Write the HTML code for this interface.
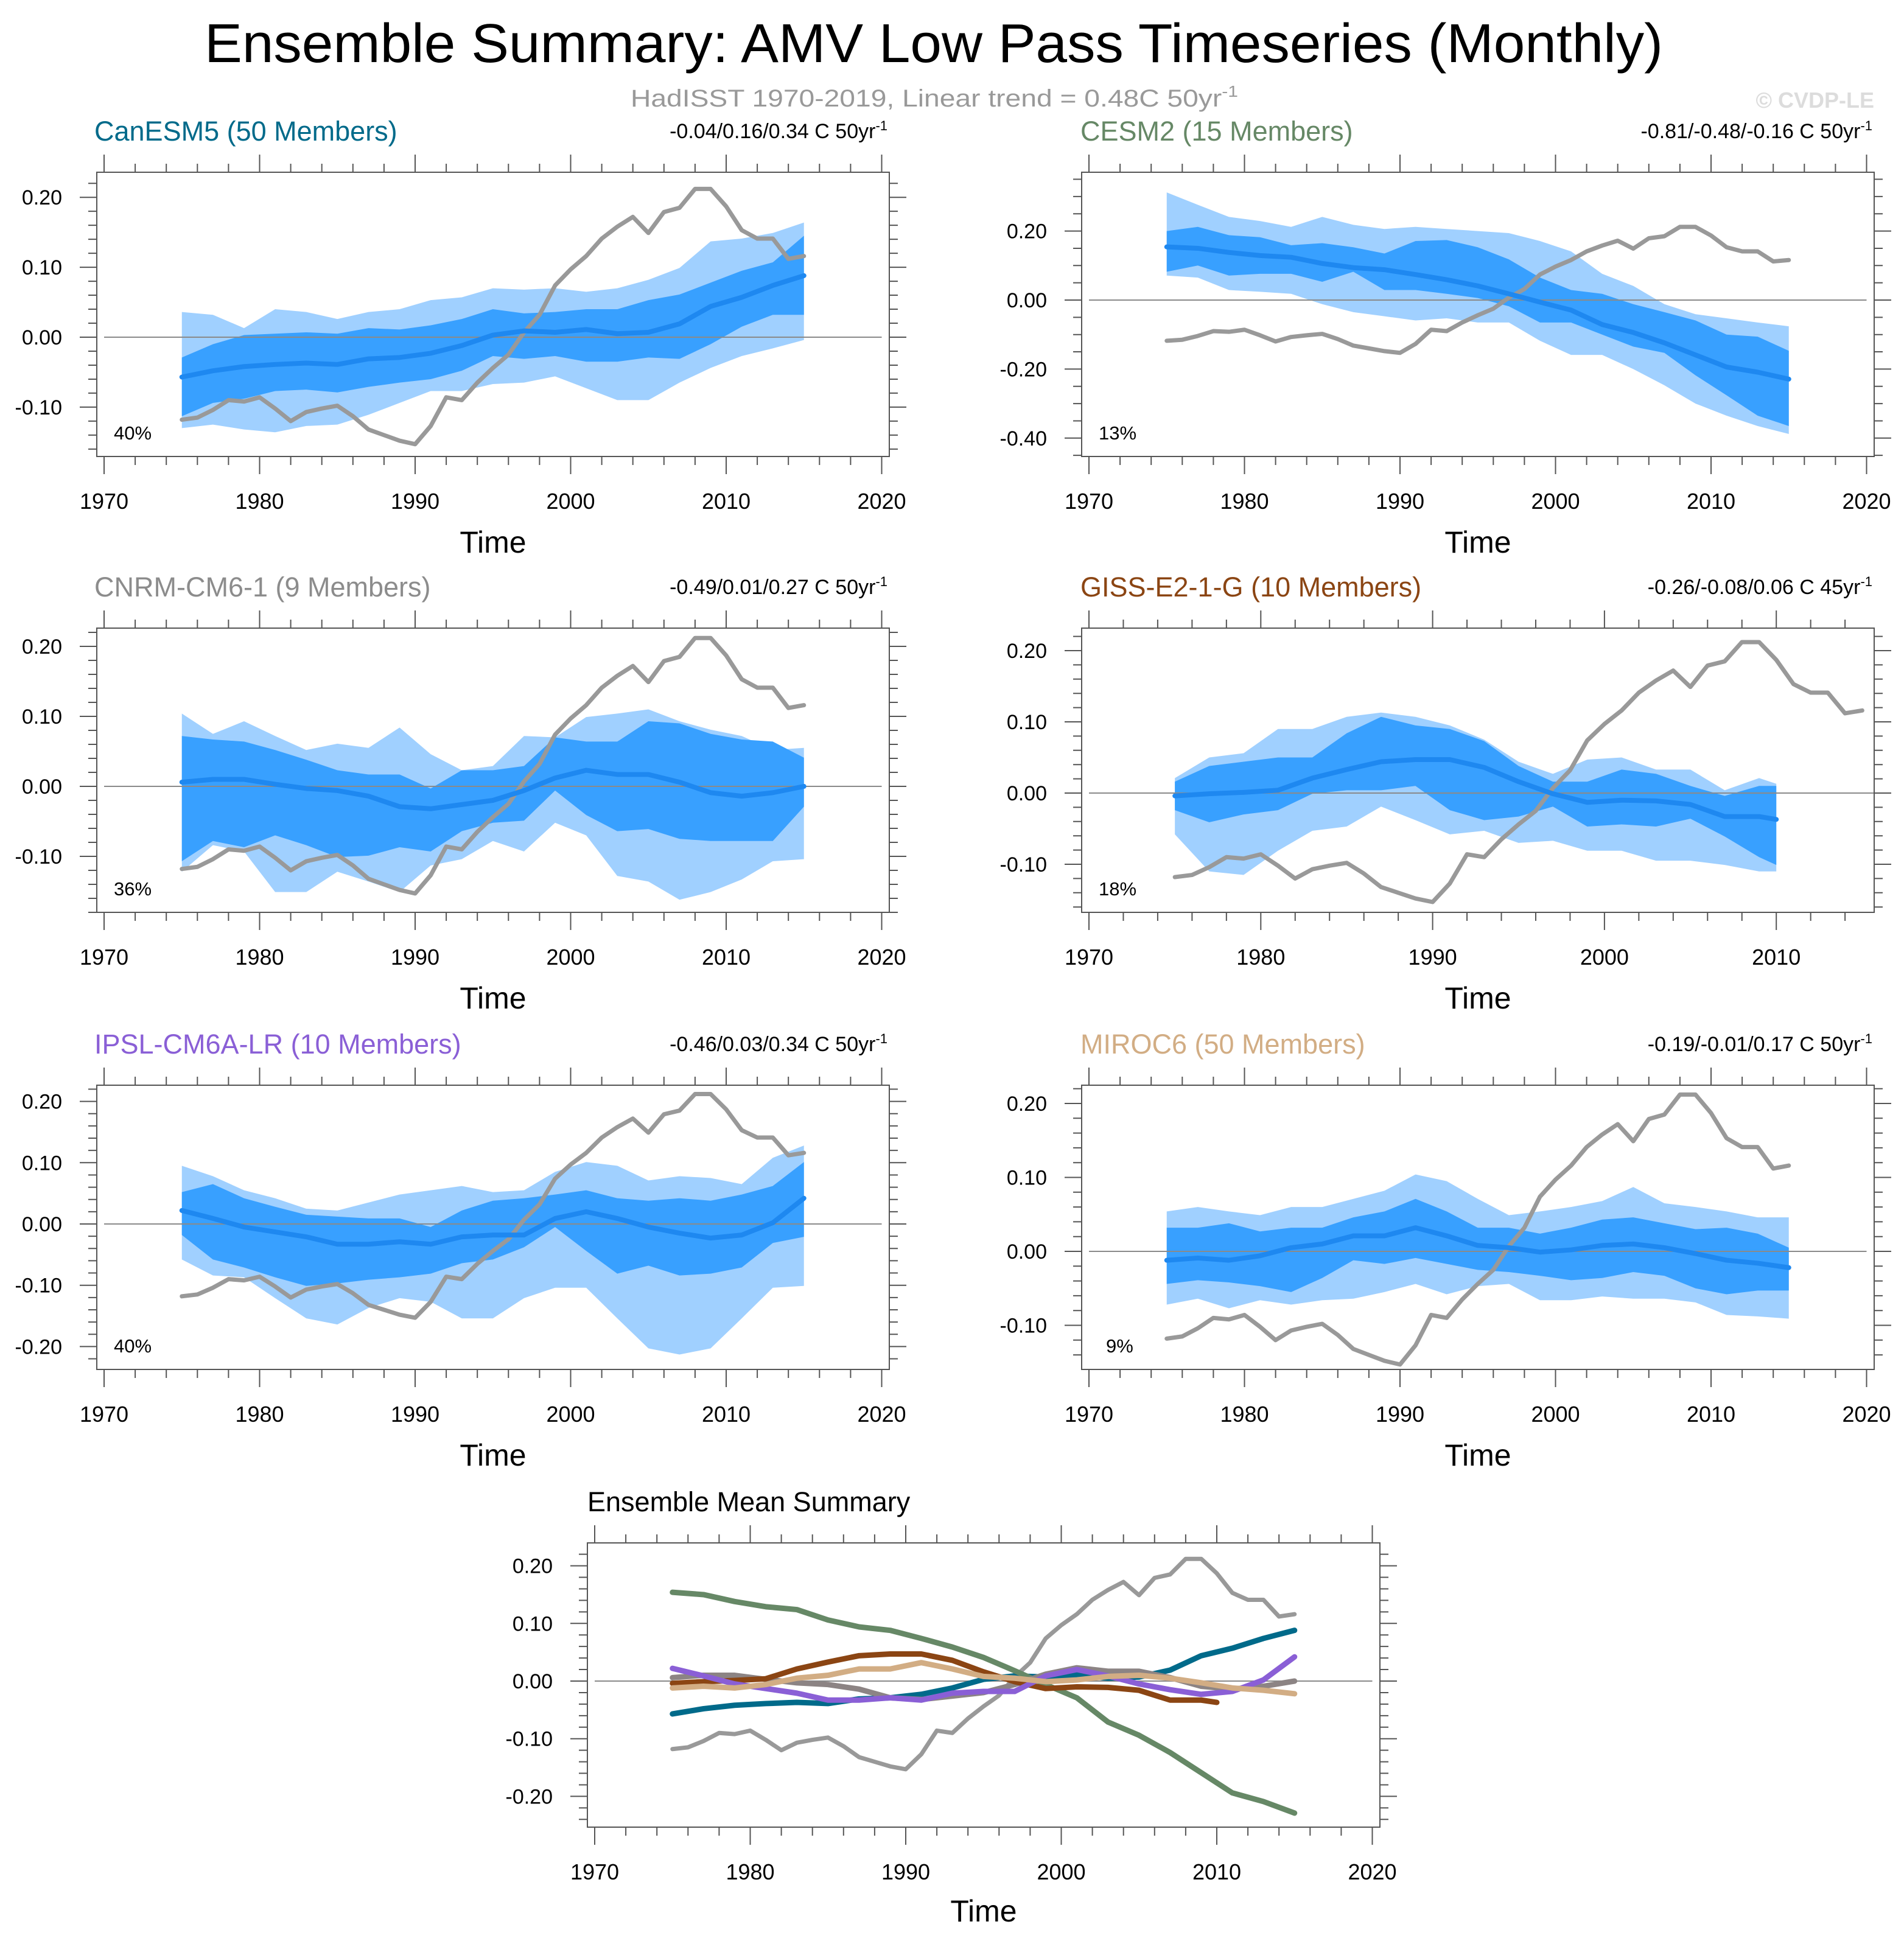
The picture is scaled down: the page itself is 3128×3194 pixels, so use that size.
<!DOCTYPE html>
<html><head><meta charset="utf-8"><title>Ensemble Summary: AMV Low Pass Timeseries</title>
<style>
html,body{margin:0;padding:0;background:#fff;}
svg{display:block;font-family:"Liberation Sans",Arial,sans-serif;}
</style></head>
<body>
<svg id="chart" xmlns="http://www.w3.org/2000/svg" width="3128" height="3194" viewBox="0 0 3128 3194">
<rect x="0" y="0" width="3128" height="3194" fill="#ffffff"/>
<text x="1534" y="102" font-size="90" text-anchor="middle" textLength="2396" lengthAdjust="spacingAndGlyphs" fill="#000">Ensemble Summary: AMV Low Pass Timeseries (Monthly)</text>
<text x="1535" y="175" font-size="40" text-anchor="middle" textLength="998" lengthAdjust="spacingAndGlyphs" fill="#999">HadISST 1970-2019, Linear trend = 0.48C 50yr<tspan font-size="26" dy="-16">-1</tspan></text>
<text x="3079" y="177" font-size="36" font-weight="bold" text-anchor="end" fill="#dcdcdc">© CVDP-LE</text>

<text x="155" y="231" font-size="45" fill="#006a8a">CanESM5 (50 Members)</text>
<text x="1458" y="227" font-size="34" text-anchor="end">-0.04/0.16/0.34 C 50yr<tspan font-size="22" dy="-13">-1</tspan></text>
<text x="187" y="722" font-size="31">40%</text>
<text x="810" y="908" font-size="50" text-anchor="middle">Time</text>

<text x="1775" y="231" font-size="45" fill="#668866">CESM2 (15 Members)</text>
<text x="3076" y="227" font-size="34" text-anchor="end">-0.81/-0.48/-0.16 C 50yr<tspan font-size="22" dy="-13">-1</tspan></text>
<text x="1805" y="722" font-size="31">13%</text>
<text x="2428" y="908" font-size="50" text-anchor="middle">Time</text>

<text x="155" y="980" font-size="45" fill="#8c8c8c">CNRM-CM6-1 (9 Members)</text>
<text x="1458" y="976" font-size="34" text-anchor="end">-0.49/0.01/0.27 C 50yr<tspan font-size="22" dy="-13">-1</tspan></text>
<text x="187" y="1471" font-size="31">36%</text>
<text x="810" y="1657" font-size="50" text-anchor="middle">Time</text>

<text x="1775" y="980" font-size="45" fill="#8b4513">GISS-E2-1-G (10 Members)</text>
<text x="3076" y="976" font-size="34" text-anchor="end">-0.26/-0.08/0.06 C 45yr<tspan font-size="22" dy="-13">-1</tspan></text>
<text x="1805" y="1471" font-size="31">18%</text>
<text x="2428" y="1657" font-size="50" text-anchor="middle">Time</text>

<text x="155" y="1731" font-size="45" fill="#8a5fd6">IPSL-CM6A-LR (10 Members)</text>
<text x="1458" y="1727" font-size="34" text-anchor="end">-0.46/0.03/0.34 C 50yr<tspan font-size="22" dy="-13">-1</tspan></text>
<text x="187" y="2222" font-size="31">40%</text>
<text x="810" y="2408" font-size="50" text-anchor="middle">Time</text>

<text x="1775" y="1731" font-size="45" fill="#d2ad84">MIROC6 (50 Members)</text>
<text x="3076" y="1727" font-size="34" text-anchor="end">-0.19/-0.01/0.17 C 50yr<tspan font-size="22" dy="-13">-1</tspan></text>
<text x="1817" y="2222" font-size="31">9%</text>
<text x="2428" y="2408" font-size="50" text-anchor="middle">Time</text>

<text x="965" y="2483" font-size="45">Ensemble Mean Summary</text>
<text x="1616" y="3157" font-size="50" text-anchor="middle">Time</text>
<g id="plots"></g>
</svg>
<script>
const NS = "http://www.w3.org/2000/svg";
const obsYears = [1975,1976,1977,1978,1979,1980,1981,1982,1983,1984,1985,1986,1987,1988,1989,1990,1991,1992,1993,1994,1995,1996,1997,1998,1999,2000,2001,2002,2003,2004,2005,2006,2007,2008,2009,2010,2011,2012,2013,2014,2015];
const obsValues = [-0.118,-0.115,-0.104,-0.090,-0.092,-0.086,-0.102,-0.120,-0.107,-0.102,-0.098,-0.113,-0.132,-0.140,-0.148,-0.153,-0.127,-0.086,-0.090,-0.065,-0.044,-0.025,0.007,0.032,0.074,0.097,0.116,0.141,0.158,0.172,0.149,0.179,0.185,0.212,0.212,0.187,0.153,0.141,0.141,0.112,0.116];
const bandYears = [1975,1977,1979,1981,1983,1985,1987,1989,1991,1993,1995,1997,1999,2001,2003,2005,2007,2009,2011,2013,2015];
const gissYears = [1975,1977,1979,1981,1983,1985,1987,1989,1991,1993,1995,1997,1999,2001,2003,2005,2007,2009,2010];

const canMean = [-0.057,-0.048,-0.042,-0.039,-0.037,-0.039,-0.031,-0.029,-0.023,-0.012,0.003,0.009,0.007,0.011,0.005,0.007,0.019,0.044,0.057,0.074,0.088];
const canInHi = [-0.029,-0.010,0.003,0.005,0.007,0.005,0.013,0.011,0.017,0.026,0.040,0.034,0.036,0.040,0.040,0.053,0.061,0.078,0.095,0.107,0.145];
const canInLo = [-0.113,-0.094,-0.088,-0.077,-0.075,-0.079,-0.071,-0.065,-0.060,-0.048,-0.027,-0.031,-0.027,-0.035,-0.035,-0.029,-0.031,-0.010,0.015,0.032,0.032];
const canOutHi = [0.036,0.032,0.013,0.040,0.036,0.026,0.036,0.040,0.053,0.057,0.070,0.068,0.070,0.065,0.070,0.082,0.099,0.137,0.141,0.149,0.164];
const canOutLo = [-0.130,-0.125,-0.132,-0.136,-0.127,-0.125,-0.111,-0.094,-0.077,-0.077,-0.067,-0.065,-0.056,-0.073,-0.090,-0.090,-0.065,-0.044,-0.027,-0.016,-0.004];

const cesmMean = [0.154,0.150,0.138,0.129,0.124,0.106,0.094,0.088,0.074,0.059,0.041,0.018,-0.006,-0.029,-0.071,-0.094,-0.124,-0.159,-0.194,-0.209,-0.229];
const cesmInHi = [0.200,0.212,0.188,0.182,0.159,0.165,0.153,0.135,0.171,0.174,0.153,0.118,0.065,0.029,0.018,-0.012,-0.035,-0.059,-0.100,-0.106,-0.147];
const cesmInLo = [0.082,0.100,0.071,0.076,0.076,0.053,0.082,0.029,0.029,0.018,0.006,-0.018,-0.065,-0.065,-0.100,-0.135,-0.153,-0.218,-0.276,-0.335,-0.365];
const cesmOutHi = [0.312,0.276,0.241,0.229,0.212,0.241,0.218,0.206,0.212,0.206,0.200,0.194,0.171,0.141,0.076,0.041,-0.012,-0.041,-0.053,-0.065,-0.076];
const cesmOutLo = [0.071,0.065,0.029,0.024,0.018,-0.012,-0.035,-0.047,-0.059,-0.053,-0.065,-0.065,-0.118,-0.159,-0.159,-0.200,-0.247,-0.300,-0.335,-0.365,-0.388];

const cnrmMean = [0.006,0.010,0.010,0.003,-0.003,-0.006,-0.014,-0.029,-0.032,-0.026,-0.020,-0.006,0.012,0.023,0.017,0.017,0.006,-0.009,-0.014,-0.009,0.000];
const cnrmInHi = [0.072,0.067,0.064,0.052,0.038,0.023,0.017,0.017,-0.003,0.023,0.023,0.029,0.070,0.064,0.064,0.093,0.090,0.075,0.067,0.064,0.041];
const cnrmInLo = [-0.107,-0.078,-0.087,-0.070,-0.084,-0.101,-0.099,-0.087,-0.093,-0.064,-0.052,-0.049,-0.006,-0.041,-0.064,-0.061,-0.075,-0.078,-0.078,-0.078,-0.029];
const cnrmOutHi = [0.104,0.075,0.093,0.072,0.052,0.061,0.055,0.084,0.046,0.023,0.029,0.072,0.070,0.099,0.104,0.110,0.093,0.081,0.072,0.052,0.055];
const cnrmOutLo = [-0.122,-0.084,-0.093,-0.151,-0.151,-0.122,-0.136,-0.151,-0.113,-0.104,-0.078,-0.093,-0.052,-0.070,-0.128,-0.136,-0.162,-0.151,-0.133,-0.107,-0.104];

const gissMean = [-0.004,-0.001,0.001,0.004,0.021,0.033,0.044,0.047,0.047,0.036,0.016,-0.001,-0.013,-0.010,-0.011,-0.016,-0.033,-0.033,-0.037];
const gissInHi = [0.016,0.038,0.044,0.050,0.050,0.084,0.107,0.095,0.090,0.073,0.038,0.016,0.016,0.033,0.027,0.010,-0.004,0.010,0.010];
const gissInLo = [-0.024,-0.041,-0.030,-0.024,-0.001,0.004,0.004,0.010,-0.024,-0.038,-0.033,-0.019,-0.047,-0.044,-0.047,-0.036,-0.061,-0.090,-0.101];
const gissOutHi = [0.021,0.050,0.056,0.090,0.090,0.107,0.113,0.107,0.095,0.075,0.044,0.027,0.047,0.050,0.033,0.033,0.004,0.021,0.013];
const gissOutLo = [-0.058,-0.110,-0.115,-0.081,-0.053,-0.047,-0.019,-0.038,-0.058,-0.053,-0.070,-0.067,-0.081,-0.081,-0.095,-0.095,-0.101,-0.110,-0.110];

const ipslMean = [0.022,0.009,-0.005,-0.013,-0.021,-0.033,-0.033,-0.029,-0.033,-0.021,-0.018,-0.018,0.009,0.020,0.009,-0.005,-0.015,-0.023,-0.018,0.002,0.042];
const ipslInHi = [0.052,0.065,0.042,0.028,0.015,0.012,0.009,0.009,-0.005,0.022,0.038,0.042,0.048,0.055,0.042,0.038,0.042,0.038,0.048,0.062,0.101];
const ipslInLo = [-0.018,-0.058,-0.071,-0.087,-0.101,-0.097,-0.091,-0.087,-0.081,-0.064,-0.058,-0.038,-0.005,-0.044,-0.081,-0.068,-0.084,-0.081,-0.071,-0.031,-0.021];
const ipslOutHi = [0.095,0.078,0.055,0.042,0.025,0.022,0.035,0.048,0.055,0.062,0.052,0.055,0.085,0.101,0.095,0.071,0.078,0.075,0.065,0.108,0.128];
const ipslOutLo = [-0.058,-0.084,-0.087,-0.121,-0.154,-0.164,-0.137,-0.121,-0.127,-0.154,-0.154,-0.121,-0.104,-0.104,-0.154,-0.203,-0.213,-0.203,-0.154,-0.104,-0.101];

const mirocMean = [-0.012,-0.009,-0.012,-0.006,0.005,0.010,0.021,0.021,0.032,0.021,0.008,0.005,-0.001,0.002,0.008,0.010,0.005,-0.003,-0.012,-0.016,-0.022];
const mirocInHi = [0.032,0.032,0.038,0.027,0.032,0.032,0.046,0.054,0.071,0.054,0.032,0.032,0.024,0.032,0.043,0.046,0.038,0.030,0.032,0.024,0.005];
const mirocInLo = [-0.044,-0.039,-0.042,-0.047,-0.055,-0.036,-0.012,-0.017,-0.009,-0.017,-0.025,-0.028,-0.033,-0.039,-0.036,-0.028,-0.033,-0.050,-0.058,-0.053,-0.053];
const mirocOutHi = [0.054,0.060,0.054,0.049,0.060,0.060,0.071,0.082,0.104,0.095,0.071,0.049,0.054,0.060,0.068,0.087,0.065,0.060,0.054,0.046,0.046];
const mirocOutLo = [-0.072,-0.064,-0.077,-0.066,-0.072,-0.066,-0.064,-0.055,-0.044,-0.058,-0.047,-0.044,-0.066,-0.066,-0.061,-0.064,-0.064,-0.069,-0.086,-0.088,-0.091];

const yTicksSmall = [-0.1,0.0,0.1,0.2];
const yTicksCesm = [-0.4,-0.2,0.0,0.2];
const yTicksWide = [-0.2,-0.1,0.0,0.1,0.2];
const xTicksStd = [1970,1980,1990,2000,2010,2020];
const xTicksGiss = [1970,1980,1990,2000,2010];

const plots = document.getElementById('plots');

function mk(tag, parent) {
  const el = document.createElementNS(NS, tag);
  parent.appendChild(el);
  return el;
}

function drawPanel(p) {
  const g = mk('g', plots);
  
  
  const W = 1302, H = 467;
  const xs = v => p.left + 12 + (v - 1970) * p.ppy;
  const ys = v => p.zero - v * p.k;
  const xMaxYear = 1970 + (W - 12) / p.ppy;

  if (p.outHi) {
    const outer = mk('polygon', g);
    
    
    let pts = p.years.map((yr, i) => xs(yr) + ',' + ys(p.outHi[i]));
    pts = pts.concat(p.years.map((yr, i) => xs(yr) + ',' + ys(p.outLo[i])).reverse());
    outer.setAttribute('points', pts.join(' '));
    outer.setAttribute('fill', '#a0d0ff');
    const inner = mk('polygon', g);
    
    
    let pts2 = p.years.map((yr, i) => xs(yr) + ',' + ys(p.inHi[i]));
    pts2 = pts2.concat(p.years.map((yr, i) => xs(yr) + ',' + ys(p.inLo[i])).reverse());
    inner.setAttribute('points', pts2.join(' '));
    inner.setAttribute('fill', '#38a0ff');
  }
  const zl = mk('line', g);
  
  
  zl.setAttribute('x1', xs(1970)); zl.setAttribute('x2', Math.min(xs(2020), p.left + W));
  zl.setAttribute('y1', ys(0)); zl.setAttribute('y2', ys(0));
  zl.setAttribute('stroke', '#8a8a8a'); zl.setAttribute('stroke-width', '2');

  p.lines.forEach(L => {
    const pl = mk('polyline', g);
    
    
    pl.setAttribute('points', L.years.map((yr, i) => xs(yr) + ',' + ys(L.values[i])).join(' '));
    pl.setAttribute('fill', 'none');
    pl.setAttribute('stroke', L.color);
    pl.setAttribute('stroke-width', L.width);
    pl.setAttribute('stroke-linejoin', 'round');
    pl.setAttribute('stroke-linecap', 'round');
  });

  const fr = mk('rect', g);
  
  
  fr.setAttribute('x', p.left); fr.setAttribute('y', p.top);
  fr.setAttribute('width', W); fr.setAttribute('height', H);
  fr.setAttribute('fill', 'none'); fr.setAttribute('stroke', '#555'); fr.setAttribute('stroke-width', '2');

  let d = '';
  for (let yr = 1970; yr <= xMaxYear + 0.01; yr += 2) {
    const x = xs(yr);
    const len = (yr % 10 === 0) ? 29 : 14;
    d += 'M' + x + ',' + p.top + 'v' + (-len) + 'M' + x + ',' + (p.top + H) + 'v' + len;
  }
  const ymin = (p.zero - (p.top + H)) / p.k, ymax = (p.zero - p.top) / p.k;
  const nMin = Math.ceil(ymin / p.minor - 1e-6), nMax = Math.floor(ymax / p.minor + 1e-6);
  for (let n = nMin; n <= nMax; n++) {
    const v = n * p.minor;
    const y = ys(v);
    const isMajor = p.yTicks.some(t => Math.abs(t - v) < 1e-6) || Math.abs(Math.round(v / 0.1) * 0.1 - v) < 1e-6 && p.minor < 0.04;
    const len = isMajor ? 28 : 14;
    d += 'M' + p.left + ',' + y + 'h' + (-len) + 'M' + (p.left + W) + ',' + y + 'h' + len;
  }
  const tk = mk('path', g);
  
  
  tk.setAttribute('d', d);
  tk.setAttribute('stroke', '#555'); tk.setAttribute('stroke-width', '2'); tk.setAttribute('fill', 'none');

  p.xTicks.forEach(yr => {
    const t = mk('text', g);
    
    
    t.setAttribute('x', xs(yr)); t.setAttribute('y', p.top + 553);
    t.setAttribute('font-size', '36'); t.setAttribute('text-anchor', 'middle');
    t.textContent = String(yr);
  });
  p.yTicks.forEach(v => {
    const t = mk('text', g);
    
    
    t.setAttribute('x', p.left - 57); t.setAttribute('y', ys(v) + 12);
    t.setAttribute('font-size', '34'); t.setAttribute('text-anchor', 'end');
    t.textContent = v.toFixed(2);
  });
}

function obsLine(name) {
  return {name: name + '-hadisst-line', years: obsYears, values: obsValues, color: '#999999', width: 7};
}
function meanLine(name, years, vals) {
  return {name: name + '-ensemble-mean-line', years: years, values: vals, color: '#1e88f0', width: 8};
}

drawPanel({name:'canesm5', left:159, top:283, zero:554, k:1149, ppy:25.55, minor:0.02, yTicks:yTicksSmall, xTicks:xTicksStd,
  years:bandYears, inHi:canInHi, inLo:canInLo, outHi:canOutHi, outLo:canOutLo,
  lines:[obsLine('canesm5'), meanLine('canesm5', bandYears, canMean)]});
drawPanel({name:'cesm2', left:1777, top:283, zero:493, k:567, ppy:25.55, minor:0.05, yTicks:yTicksCesm, xTicks:xTicksStd,
  years:bandYears, inHi:cesmInHi, inLo:cesmInLo, outHi:cesmOutHi, outLo:cesmOutLo,
  lines:[obsLine('cesm2'), meanLine('cesm2', bandYears, cesmMean)]});
drawPanel({name:'cnrm', left:159, top:1032, zero:1292, k:1150, ppy:25.55, minor:0.02, yTicks:yTicksSmall, xTicks:xTicksStd,
  years:bandYears, inHi:cnrmInHi, inLo:cnrmInLo, outHi:cnrmOutHi, outLo:cnrmOutLo,
  lines:[obsLine('cnrm'), meanLine('cnrm', bandYears, cnrmMean)]});
drawPanel({name:'giss', left:1777, top:1032, zero:1303, k:1170, ppy:28.23, minor:0.02, yTicks:yTicksSmall, xTicks:xTicksGiss,
  years:gissYears, inHi:gissInHi, inLo:gissInLo, outHi:gissOutHi, outLo:gissOutLo,
  lines:[obsLine('giss'), meanLine('giss', gissYears, gissMean)]});
drawPanel({name:'ipsl', left:159, top:1783, zero:2011, k:1007, ppy:25.55, minor:0.02, yTicks:yTicksWide, xTicks:xTicksStd,
  years:bandYears, inHi:ipslInHi, inLo:ipslInLo, outHi:ipslOutHi, outLo:ipslOutLo,
  lines:[obsLine('ipsl'), meanLine('ipsl', bandYears, ipslMean)]});
drawPanel({name:'miroc6', left:1777, top:1783, zero:2056, k:1215, ppy:25.55, minor:0.02, yTicks:yTicksSmall, xTicks:xTicksStd,
  years:bandYears, inHi:mirocInHi, inLo:mirocInLo, outHi:mirocOutHi, outLo:mirocOutLo,
  lines:[obsLine('miroc6'), meanLine('miroc6', bandYears, mirocMean)]});
drawPanel({name:'summary', left:965, top:2535, zero:2762, k:947, ppy:25.55, minor:0.02, yTicks:yTicksWide, xTicks:xTicksStd,
  lines:[
    obsLine('summary'),
    {name:'summary-canesm5-line', years:bandYears, values:canMean, color:'#006a8a', width:9},
    {name:'summary-cesm2-line', years:bandYears, values:cesmMean, color:'#668866', width:9},
    {name:'summary-cnrm-line', years:bandYears, values:cnrmMean, color:'#8c8484', width:9},
    {name:'summary-giss-line', years:gissYears, values:gissMean, color:'#8b4513', width:9},
    {name:'summary-ipsl-line', years:bandYears, values:ipslMean, color:'#8a5fd6', width:9},
    {name:'summary-miroc6-line', years:bandYears, values:mirocMean, color:'#d2ad84', width:9}
  ]});
</script>
</body></html>
